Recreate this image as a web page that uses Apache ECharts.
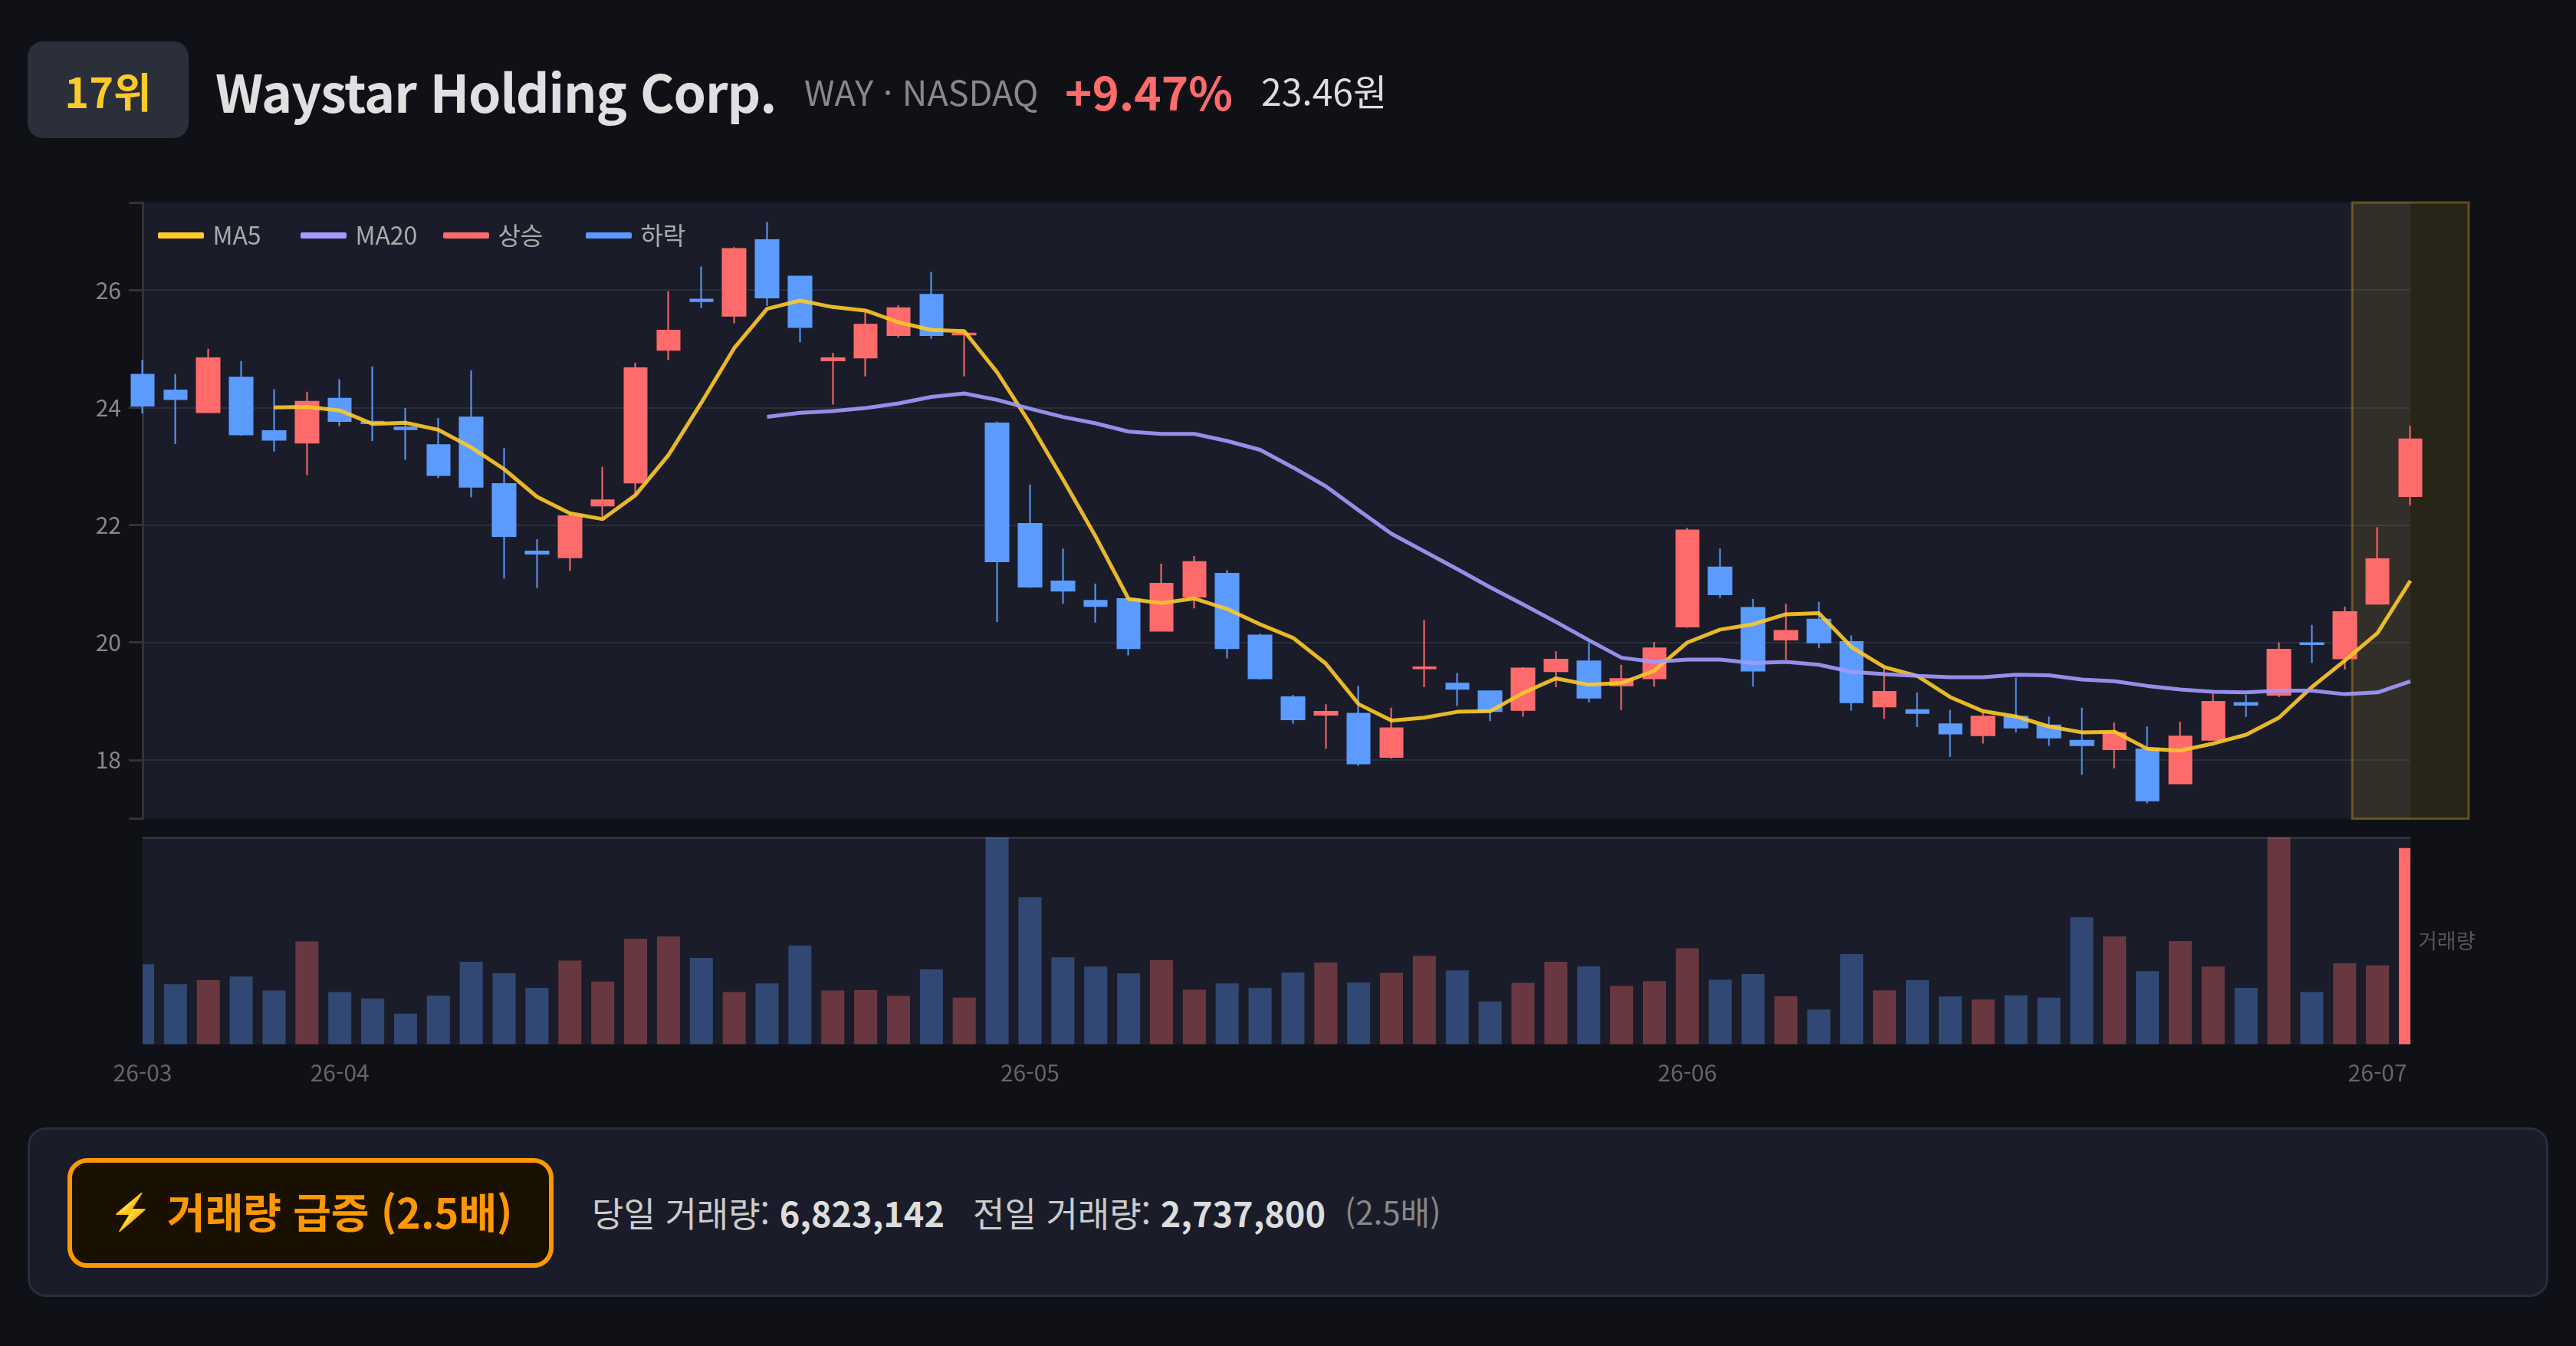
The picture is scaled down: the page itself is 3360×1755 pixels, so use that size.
<!DOCTYPE html>
<html lang="ko"><head><meta charset="utf-8">
<script src="https://cdn.jsdelivr.net/npm/echarts@6/dist/echarts.min.js"></script>
<style>
html,body{margin:0;padding:0;background:#0f1117;width:3360px;height:1755px;overflow:hidden;font-family:"Noto Sans CJK KR","Noto Sans",sans-serif}
#chart{position:absolute;left:0;top:0;width:3360px;height:1755px}
.t{position:absolute;white-space:nowrap;line-height:1}
#badge{position:absolute;left:36px;top:54px;width:210px;height:126px;border-radius:20px;background:#2a2f3a;display:flex;align-items:center;justify-content:center;color:#ffca28;font-weight:700;font-size:54px}
#panel{position:absolute;left:36px;top:1470px;width:3282px;height:215px;border:3px solid #2a2d3a;border-radius:24px;background:#1a1d29}
#btn{position:absolute;left:88px;top:1510px;width:622px;height:131px;border:6px solid #ff9800;border-radius:26px;background:#1a1000;color:#ff9800;font-weight:700;font-size:54px}
b{font-weight:700;color:#ddd}
</style></head><body>
<div id="chart"></div>
<div id="badge">17위</div>
<div class="t" style="left:281px;top:84px;font-size:68px;font-weight:700;letter-spacing:-1.1px;color:#e0e0e0">Waystar Holding Corp.</div>
<div class="t" style="left:1049px;top:96px;font-size:45px;color:#888">WAY · NASDAQ</div>
<div class="t" style="left:1389px;top:88px;font-size:60px;font-weight:700;color:#ff6b6b">+9.47%</div>
<div class="t" style="left:1645px;top:93px;font-size:48px;color:#ddd">23.46원</div>
<div id="panel"></div>
<div id="btn"><span class="t" style="left:48px;top:37px;font-size:46px">⚡</span><span class="t" style="left:124px;top:36px">거래량 급증 (2.5배)</span></div>
<div class="t" style="left:772px;top:1558px;font-size:45px;color:#ccc">당일 거래량: <b>6,823,142</b></div>
<div class="t" style="left:1269px;top:1558px;font-size:45px;color:#ccc">전일 거래량: <b>2,737,800</b></div>
<div class="t" style="left:1754px;top:1558px;font-size:42px;color:#888">(2.5배)</div>
<script>
const dates=['26-03-24','26-03-25','26-03-26','26-03-27','26-03-30','26-03-31','26-04-01','26-04-02','26-04-06','26-04-07','26-04-08','26-04-09','26-04-10','26-04-13','26-04-14','26-04-15','26-04-16','26-04-17','26-04-20','26-04-21','26-04-22','26-04-23','26-04-24','26-04-27','26-04-28','26-04-29','26-04-30','26-05-01','26-05-04','26-05-05','26-05-06','26-05-07','26-05-08','26-05-11','26-05-12','26-05-13','26-05-14','26-05-15','26-05-18','26-05-19','26-05-20','26-05-21','26-05-22','26-05-26','26-05-27','26-05-28','26-05-29','26-06-01','26-06-02','26-06-03','26-06-04','26-06-05','26-06-08','26-06-09','26-06-10','26-06-11','26-06-12','26-06-15','26-06-16','26-06-17','26-06-18','26-06-22','26-06-23','26-06-24','26-06-25','26-06-26','26-06-29','26-06-30','26-07-01','26-07-02'];
const opens=[24.56,24.29,23.92,24.51,23.60,23.40,24.15,23.76,23.66,23.36,23.83,22.70,21.55,21.45,22.33,22.72,24.98,25.84,25.56,26.85,26.23,24.80,24.85,25.23,25.92,25.24,23.73,22.02,21.04,20.71,20.74,20.20,20.78,21.17,20.12,19.07,18.77,18.79,18.05,19.56,19.30,19.17,18.85,19.51,19.68,19.27,19.39,20.27,21.28,20.59,20.05,20.39,20.01,18.91,18.85,18.61,18.42,18.74,18.59,18.33,18.18,18.18,17.60,18.34,18.97,19.11,19.99,19.73,20.66,22.49];
const closes=[24.03,24.14,24.84,23.54,23.45,24.10,23.77,23.73,23.63,22.85,22.65,21.81,21.51,22.15,22.42,24.67,25.31,25.81,26.70,25.87,25.37,24.84,25.41,25.69,25.23,25.26,21.38,20.95,20.88,20.62,19.90,21.00,21.37,19.90,19.39,18.69,18.82,17.94,18.54,19.58,19.21,18.83,19.56,19.71,19.06,19.38,19.90,21.91,20.82,19.52,20.20,20.00,18.98,19.16,18.80,18.45,18.74,18.55,18.38,18.25,18.46,17.31,18.40,18.99,18.94,19.88,19.97,20.52,21.42,23.46];
const lows=[23.90,23.38,23.91,23.52,23.25,22.85,23.68,23.43,23.11,22.80,22.47,21.09,20.93,21.22,22.14,22.52,24.81,25.69,25.43,25.73,25.11,24.05,24.53,25.19,25.17,24.53,20.35,20.93,20.66,20.34,19.78,20.19,20.58,19.73,19.37,18.62,18.19,17.90,18.02,19.24,18.92,18.66,18.74,19.24,18.98,18.85,19.25,20.25,20.76,19.25,19.71,19.90,18.84,18.70,18.56,18.05,18.28,18.47,18.24,17.75,17.86,17.26,17.60,18.33,18.73,19.07,19.65,19.54,20.65,22.33];
const highs=[24.81,24.57,25.00,24.79,24.31,24.27,24.48,24.70,23.99,23.82,24.63,23.31,21.76,22.21,22.99,24.76,25.98,26.40,26.73,27.16,26.24,24.93,25.62,25.74,26.31,25.28,23.76,22.69,21.60,21.00,20.75,21.34,21.47,21.23,20.15,19.11,18.95,19.26,18.89,20.38,19.48,19.17,19.58,19.85,19.99,19.62,20.01,21.95,21.60,20.74,20.66,20.69,20.12,19.55,19.15,18.85,18.83,19.40,18.74,18.89,18.64,18.57,18.65,19.13,19.11,20.00,20.30,20.61,21.96,23.69];
const ma5=[null,null,null,null,24.00,24.01,23.95,23.72,23.74,23.62,23.32,22.95,22.48,22.20,22.10,22.51,23.19,24.08,25.01,25.68,25.82,25.71,25.65,25.45,25.32,25.30,24.60,23.73,22.78,21.80,20.74,20.67,20.75,20.57,20.31,20.08,19.64,18.95,18.67,18.72,18.82,18.83,19.14,19.39,19.28,19.31,19.52,20.00,20.22,20.31,20.48,20.50,19.92,19.58,19.43,19.07,18.83,18.74,18.57,18.47,18.48,18.19,18.16,18.28,18.43,18.72,19.24,19.69,20.16,21.05];
const ma20=[null,null,null,null,null,null,null,null,null,null,null,null,null,null,null,null,null,null,null,23.84,23.91,23.94,23.99,24.07,24.18,24.24,24.13,23.98,23.84,23.73,23.59,23.55,23.55,23.43,23.28,22.98,22.66,22.25,21.85,21.55,21.25,20.94,20.65,20.35,20.04,19.74,19.67,19.71,19.71,19.65,19.67,19.62,19.50,19.46,19.43,19.41,19.41,19.45,19.44,19.37,19.34,19.26,19.20,19.16,19.15,19.18,19.18,19.12,19.15,19.34];
const volumes=[2781000,2088000,2230000,2354000,1866000,3571000,1812000,1590000,1057000,1688000,2870000,2470000,1963000,2905000,2177000,3669000,3749000,3003000,1812000,2114000,3429000,1866000,1883000,1679000,2603000,1617000,7187000,5108000,3021000,2701000,2461000,2923000,1892000,2114000,1954000,2496000,2843000,2150000,2479000,3074000,2567000,1484000,2132000,2870000,2710000,2026000,2194000,3332000,2239000,2443000,1670000,1208000,3136000,1875000,2230000,1661000,1555000,1697000,1617000,4415000,3749000,2541000,3589000,2701000,1963000,7187000,1812000,2816000,2737800,6823142];
const monthTickIndex=[0,6,27,47,68];
const priceLabels=[18,20,22,24,26];
const priceTicks=[17,18,20,22,24,26,27.49];
const legendNames=['MA5','MA20','상승','하락'];
const UP='#ff6b6b',DOWN='#5b9bff',GOLD='#ffca28',VIOLET='#a29bfe',GRID_BG='#1a1d29',LINE='#2a2d3a';
const chart=echarts.init(document.getElementById('chart'),null,{renderer:'canvas'});
const last=dates.length-1;
chart.setOption({
 backgroundColor:'#0f1117',animation:false,
 textStyle:{fontFamily:'"Noto Sans CJK KR","Noto Sans",sans-serif'},
 legend:legendNames.map((n,i)=>({left:201+186*i,top:286,itemWidth:60,itemHeight:8,icon:'roundRect',data:[n],
   formatter:(s)=>'\u2009'+s,textStyle:{color:'#aaa',fontSize:32}})),
 grid:[
  {left:186,top:264,width:2958,height:803.5,show:true,backgroundColor:GRID_BG,borderWidth:0},
  {left:186,top:1092,width:2958,height:269.5,show:true,backgroundColor:GRID_BG,borderWidth:0}],
 xAxis:[
  {type:'category',gridIndex:0,data:dates,boundaryGap:false,axisLine:{show:false},axisTick:{show:false},axisLabel:{show:false},splitLine:{show:false}},
  {type:'category',gridIndex:1,data:dates,boundaryGap:false,axisLine:{show:false},axisTick:{show:false},splitLine:{show:false},
   axisLabel:{color:'#666',fontSize:30,margin:22,hideOverlap:false,
     interval:(i)=>monthTickIndex.includes(i),formatter:(v)=>v.slice(0,5)}}],
 yAxis:[
  {type:'value',gridIndex:0,min:17,max:27.49,splitNumber:5,scale:true,
   axisLine:{show:true,lineStyle:{color:'#333',width:3}},
   axisTick:{show:true,length:18,customValues:priceTicks,lineStyle:{color:'#333',width:3}},
   axisLabel:{color:'#888',fontSize:30,margin:28,padding:[0,0,4,0],customValues:priceLabels,formatter:(v)=>String(v)},
   splitLine:{show:true,showMinLine:false,showMaxLine:false,lineStyle:{color:LINE,width:2}}},
  {type:'value',gridIndex:1,min:0,max:7187000,position:'right',
   name:'거래량',nameLocation:'middle',nameRotate:0,nameGap:10,nameTextStyle:{color:'#555',fontSize:27,align:'left',padding:[4,0,0,0]},
   axisLine:{show:false},axisTick:{show:false},axisLabel:{show:false},
   splitNumber:1,splitLine:{show:true,showMinLine:false,lineStyle:{color:'#2f3347',width:3}}}],
 series:[
  {name:'candles',type:'candlestick',xAxisIndex:0,yAxisIndex:0,clip:false,barWidth:'70%',z:3,
   data:opens.map((o,i)=>[o,closes[i],lows[i],highs[i]]),
   itemStyle:{color:UP,color0:DOWN,borderColor:UP,borderColor0:DOWN,borderWidth:2}},
  {name:'MA5',type:'line',xAxisIndex:0,yAxisIndex:0,data:ma5,showSymbol:false,symbol:'none',clip:false,z:4,
   lineStyle:{color:GOLD,width:5,opacity:.9},itemStyle:{color:GOLD}},
  {name:'MA20',type:'line',xAxisIndex:0,yAxisIndex:0,data:ma20,showSymbol:false,symbol:'none',clip:false,z:4,
   lineStyle:{color:VIOLET,width:5,opacity:.9},itemStyle:{color:VIOLET}},
  {name:'상승',type:'line',xAxisIndex:0,yAxisIndex:0,data:[],itemStyle:{color:UP},lineStyle:{color:UP}},
  {name:'하락',type:'line',xAxisIndex:0,yAxisIndex:0,data:[],itemStyle:{color:DOWN},lineStyle:{color:DOWN}},
  {name:'거래량',type:'custom',xAxisIndex:1,yAxisIndex:1,
   encode:{x:0,y:1},
   data:volumes.map((v,i)=>[i,v]),
   renderItem:(params,api)=>{
     const i=api.value(0), top=api.coord([i,api.value(1)]), base=api.coord([i,0]), w=api.size([1,0])[0]*0.7;
     const cs=params.coordSys;
     const rect=echarts.graphic.clipRectByRect({x:top[0]-w/2,y:top[1],width:w,height:base[1]-top[1]},{x:cs.x,y:cs.y,width:cs.width,height:cs.height});
     return rect&&{type:'rect',shape:rect,style:{fill:closes[i]>=opens[i]?UP:DOWN,opacity:i===last?1:0.35}};
   }}
 ]
});
// highlight box around the latest session, positioned through the axis scale
const cx=chart.convertToPixel({xAxisIndex:0},dates[last]);
const yTop=chart.convertToPixel({yAxisIndex:0},27.49), yBot=chart.convertToPixel({yAxisIndex:0},17);
chart.setOption({graphic:[{type:'rect',z:1,shape:{x:cx-76,y:yTop,width:152,height:yBot-yTop},
  style:{fill:'rgba(255,202,40,0.1)',stroke:'rgba(255,202,40,0.3)',lineWidth:3}}]});
</script></body></html>
